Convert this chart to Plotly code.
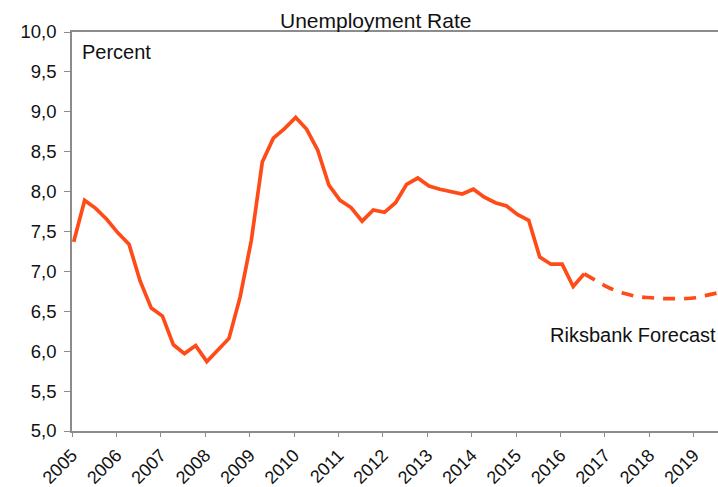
import plotly.graph_objects as go

# Quarterly unemployment rate, percent (outcome)
outcome_quarters = [
    "2005Q1", "2005Q2", "2005Q3", "2005Q4",
    "2006Q1", "2006Q2", "2006Q3", "2006Q4",
    "2007Q1", "2007Q2", "2007Q3", "2007Q4",
    "2008Q1", "2008Q2", "2008Q3", "2008Q4",
    "2009Q1", "2009Q2", "2009Q3", "2009Q4",
    "2010Q1", "2010Q2", "2010Q3", "2010Q4",
    "2011Q1", "2011Q2", "2011Q3", "2011Q4",
    "2012Q1", "2012Q2", "2012Q3", "2012Q4",
    "2013Q1", "2013Q2", "2013Q3", "2013Q4",
    "2014Q1", "2014Q2", "2014Q3", "2014Q4",
    "2015Q1", "2015Q2", "2015Q3", "2015Q4",
    "2016Q1", "2016Q2", "2016Q3",
]
outcome_values = [
    7.37, 7.89, 7.79, 7.65,
    7.48, 7.34, 6.88, 6.54,
    6.44, 6.08, 5.97, 6.07,
    5.87, 6.01, 6.16, 6.68,
    7.39, 8.37, 8.67, 8.79,
    8.93, 8.78, 8.52, 8.08,
    7.89, 7.80, 7.63, 7.77,
    7.74, 7.86, 8.09, 8.17,
    8.07, 8.03, 8.00, 7.97,
    8.03, 7.93, 7.86, 7.82,
    7.71, 7.64, 7.18, 7.09,
    7.09, 6.81, 6.97,
]

# Riksbank forecast, percent
forecast_quarters = [
    "2016Q3", "2016Q4",
    "2017Q1", "2017Q2", "2017Q3", "2017Q4",
    "2018Q1", "2018Q2", "2018Q3", "2018Q4",
    "2019Q1", "2019Q2", "2019Q3",
]
forecast_values = [
    6.97, 6.89,
    6.81, 6.75, 6.71, 6.68,
    6.67, 6.66, 6.66, 6.66,
    6.67, 6.70, 6.73,
]

year_ticks = list(range(2005, 2020))
y_ticks = [5.0, 5.5, 6.0, 6.5, 7.0, 7.5, 8.0, 8.5, 9.0, 9.5, 10.0]


def quarter_to_date(q):
    """Place each quarter in the middle of its first month."""
    year, qn = int(q[:4]), int(q[-1])
    return f"{year}-{3 * (qn - 1) + 1:02d}-15"


LINE_COLOR = "#FF4B17"
AXIS_COLOR = "#8C8C8C"
FONT = "Liberation Sans, Arial, sans-serif"

fig = go.Figure()
fig.add_trace(go.Scatter(
    x=[quarter_to_date(q) for q in outcome_quarters],
    y=outcome_values,
    mode="lines",
    line=dict(color=LINE_COLOR, width=3.7),
    showlegend=False,
))
fig.add_trace(go.Scatter(
    x=[quarter_to_date(q) for q in forecast_quarters],
    y=forecast_values,
    mode="lines",
    line=dict(color=LINE_COLOR, width=3.7, dash="12px,9px", shape="spline"),
    showlegend=False,
))

fig.update_layout(
    width=718,
    height=487,
    margin=dict(l=72, r=0, t=32, b=56),
    paper_bgcolor="white",
    plot_bgcolor="white",
    separators=",.",
    font=dict(family=FONT, size=18, color="#111111"),
    xaxis=dict(
        type="date",
        range=["2005-01-01", "2019-07-20"],
        tickvals=[f"{y}-01-01" for y in year_ticks],
        ticktext=[str(y) for y in year_ticks],
        tickangle=-45,
        ticks="outside",
        ticklen=4,
        ticklabelstandoff=1,
        tickcolor=AXIS_COLOR,
        showline=True,
        linecolor=AXIS_COLOR,
        linewidth=1.5,
        mirror=True,
        showgrid=False,
        zeroline=False,
        automargin=False,
        tickfont=dict(size=18),
    ),
    yaxis=dict(
        range=[5.0, 10.0],
        tickvals=y_ticks,
        tickformat=".1f",
        ticks="outside",
        ticklen=6,
        ticklabelstandoff=4,
        tickcolor=AXIS_COLOR,
        showline=True,
        linecolor=AXIS_COLOR,
        linewidth=1.5,
        showgrid=False,
        zeroline=False,
        automargin=False,
        tickfont=dict(size=18.5),
    ),
    annotations=[
        dict(text="Unemployment Rate", xref="paper", yref="paper",
             x=0.47, y=1.03, xanchor="center", yanchor="middle",
             showarrow=False, font=dict(size=21)),
        dict(text="Percent", xref="paper", yref="y",
             x=0.012, y=9.75, xanchor="left", yanchor="middle",
             showarrow=False, font=dict(size=20)),
        dict(text="Riksbank Forecast", xref="paper", yref="y",
             x=1.0, y=6.2, xanchor="right", yanchor="middle",
             showarrow=False, font=dict(size=20)),
    ],
)

fig.write_html("out.html")
